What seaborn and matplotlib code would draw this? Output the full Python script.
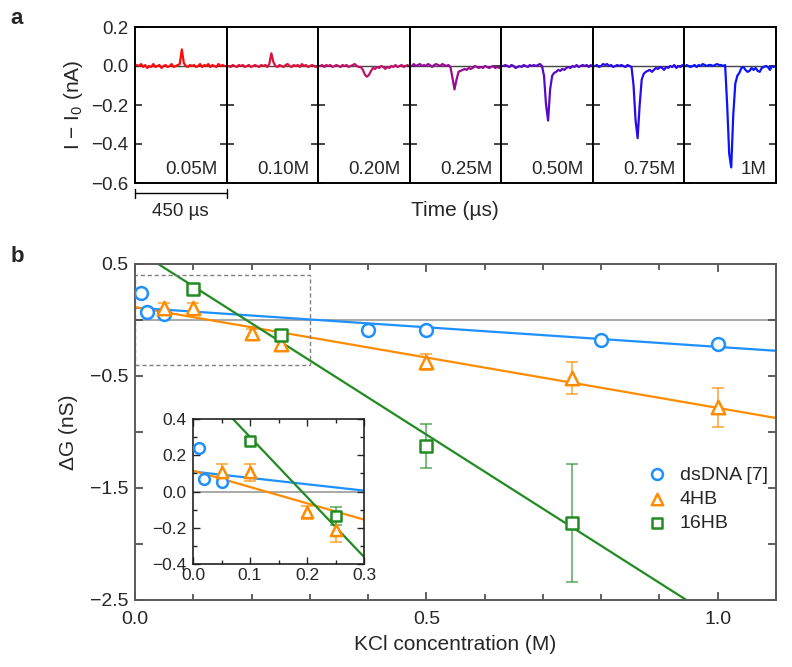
import numpy as np
import pandas as pd
import seaborn as sns
import matplotlib.pyplot as plt
from matplotlib.patches import Rectangle
from matplotlib.ticker import MultipleLocator, FixedLocator

# panel a: translocation events, one trace per KCl concentration
t_us = [10, 20, 30, 40, 50, 60, 70, 80, 90, 100, 110,
        120, 130, 140, 150, 160, 170, 180, 190, 200, 210, 220,
        230, 240, 250, 260, 270, 280, 290, 300, 310, 320, 330,
        340, 350, 360, 370, 380, 390, 400, 410, 420, 430, 440]

conc_labels = ["0.05M", "0.10M", "0.20M", "0.25M", "0.50M", "0.75M", "1M"]
trace_colors = ["#ff0a0a", "#e0103c", "#c0106a", "#960a96", "#5a08c8", "#2a0ae8", "#0a14ff"]

i_005 = [0.005, 0.0, 0.01, -0.005, 0.005, -0.01, 0.0, -0.005, 0.01, -0.005, 0.0,
         0.005, -0.01, 0.0, 0.005, -0.005, 0.0, 0.01, -0.005, 0.0, 0.005, 0.01,
         0.085, 0.015, 0.0, -0.005, 0.005, 0.0, 0.005, -0.005, 0.0, 0.01, -0.005,
         0.005, 0.0, 0.01, -0.005, 0.005, 0.0, -0.005, 0.01, 0.0, 0.005, 0.0]
i_010 = [0.0, -0.005, 0.005, 0.0, -0.005, 0.005, 0.0, 0.005, -0.005, 0.0, 0.005,
         -0.005, 0.0, 0.005, 0.0, -0.005, 0.005, 0.0, 0.005, -0.005, 0.01, 0.065,
         0.02, 0.0, -0.005, 0.005, 0.0, -0.005, 0.005, 0.01, 0.0, -0.005, 0.005,
         0.0, 0.005, -0.005, 0.01, 0.0, 0.005, -0.005, 0.0, 0.005, 0.0, -0.005]
i_020 = [0.0, 0.005, -0.005, 0.005, 0.0, 0.005, -0.005, 0.0, 0.005, 0.0, -0.005,
         0.005, 0.0, 0.005, -0.005, 0.0, 0.005, 0.01, 0.0, -0.005, -0.005, -0.02,
         -0.045, -0.055, -0.045, -0.025, -0.01, -0.015, -0.005, -0.01, 0.0, -0.005, -0.015,
         -0.005, -0.01, 0.0, -0.005, 0.005, -0.005, 0.0, 0.005, -0.005, 0.0, 0.005]
i_025 = [0.0, 0.01, 0.0, 0.005, 0.01, 0.0, 0.005, 0.0, 0.01, 0.005, -0.005,
         0.005, 0.01, 0.005, 0.0, 0.01, 0.005, 0.0, 0.005, -0.005, -0.06, -0.12,
         -0.07, -0.03, -0.025, -0.02, -0.015, -0.02, -0.01, -0.015, -0.01, 0.0, -0.005,
         -0.01, -0.005, -0.01, 0.0, -0.005, -0.01, -0.005, 0.0, -0.01, -0.005, -0.01]
i_050 = [0.0, 0.005, 0.0, -0.005, 0.005, 0.0, -0.01, -0.005, 0.0, -0.005, 0.005,
         0.0, -0.005, 0.005, 0.0, 0.005, 0.0, 0.005, 0.01, 0.0, -0.05, -0.2,
         -0.28, -0.12, -0.05, -0.035, -0.03, -0.02, -0.025, -0.015, -0.02, -0.01, -0.005,
         -0.01, 0.0, -0.005, 0.005, -0.005, 0.0, 0.005, 0.0, 0.005, -0.005, 0.005]
i_075 = [0.0, 0.005, -0.005, 0.0, 0.01, 0.005, 0.01, 0.0, 0.005, -0.005, 0.0,
         0.005, 0.0, 0.005, 0.0, -0.005, 0.005, 0.0, -0.005, -0.1, -0.28, -0.37,
         -0.2, -0.07, -0.04, -0.03, -0.025, -0.02, -0.03, -0.02, -0.01, -0.015, -0.005,
         -0.01, -0.02, -0.005, -0.01, 0.0, -0.005, 0.005, -0.01, 0.0, -0.005, 0.005]
i_100 = [0.005, 0.0, -0.005, 0.0, 0.005, -0.005, 0.005, 0.0, 0.01, 0.005, 0.0,
         0.005, 0.005, 0.0, 0.005, 0.01, 0.005, 0.005, 0.0, 0.005, -0.2, -0.45,
         -0.52, -0.25, -0.09, -0.05, -0.035, -0.01, -0.005, -0.02, -0.03, -0.025, -0.01,
         -0.02, -0.01, -0.025, -0.03, -0.01, -0.005, 0.0, -0.005, -0.02, 0.0, -0.005]
traces = [i_005, i_010, i_020, i_025, i_050, i_075, i_100]

# panel b: conductance change vs KCl concentration
ds_x = [0.01, 0.02, 0.05, 0.4, 0.5, 0.8, 1.0]
ds_y = [0.24, 0.07, 0.05, -0.09, -0.09, -0.18, -0.21]
hb4_x = [0.05, 0.1, 0.2, 0.25, 0.5, 0.75, 1.0]
hb4_y = [0.11, 0.105, -0.115, -0.215, -0.375, -0.52, -0.78]
hb4_err = [0.04, 0.045, 0.035, 0.065, 0.075, 0.145, 0.175]
hb16_x = [0.1, 0.25, 0.5, 0.75]
hb16_y = [0.28, -0.135, -1.125, -1.81]
hb16_err = [0.015, 0.05, 0.2, 0.525]

# linear fits (intercept, slope)
ds_fit = (0.11, -0.35)
hb4_fit = (0.115, -0.9)
hb16_fit = (0.632, -3.31)

c_ds, c_4, c_16 = "#1e90ff", "#ff8c00", "#228b22"

sns.set_style("ticks")
plt.rcParams['font.family'] = ['Liberation Sans', 'DejaVu Sans']
plt.rcParams['mathtext.fontset'] = 'custom'
plt.rcParams['mathtext.rm'] = 'Liberation Sans'
plt.rcParams['mathtext.it'] = 'Liberation Sans:italic'

W, H = 792, 667
fig = plt.figure(figsize=(W / 100, H / 100), dpi=100)

left, right = 135 / W, 776 / W
w = (right - left) / 7

# ---- panel a
axes_a = []
for i, (lab, vals, col) in enumerate(zip(conc_labels, traces, trace_colors)):
    ax = fig.add_axes([left + i * w, 1 - 183 / H, w, 156 / H])
    ax.axhline(0, color="#444444", lw=1, zorder=0)
    sns.lineplot(x=t_us, y=vals, color=col, lw=1.6, estimator=None, ax=ax)
    ax.set_xlim(0, 450)
    ax.set_ylim(-0.6, 0.2)
    ax.set_xticks([])
    ax.yaxis.set_major_locator(MultipleLocator(0.2))
    ax.tick_params(axis='y', direction='in', left=True, right=True, length=5,
                   width=1.2, labelsize=13.5, pad=5)
    if i > 0:
        ax.tick_params(labelleft=False)
    ax.text(0.9, 0.085, lab, transform=ax.transAxes, ha='right', va='center', fontsize=13.5)
    for s in ax.spines.values():
        s.set_linewidth(1.4)
        s.set_color("black")
    axes_a.append(ax)

ax0 = axes_a[0]
ax0.set_ylabel("I $-$ I$_0$ (nA)", fontsize=15, labelpad=4)
tr = ax0.get_xaxis_transform()
ax0.plot([0, 450], [-0.064, -0.064], color="black", lw=1, transform=tr, clip_on=False)
ax0.plot([0, 0], [-0.04, -0.095], color="black", lw=1, transform=tr, clip_on=False)
ax0.plot([450, 450], [-0.04, -0.095], color="black", lw=1, transform=tr, clip_on=False)
ax0.text(225, -0.18, "450 µs", transform=tr, ha='center', va='center', fontsize=13.5)
fig.text(455 / W, 1 - 211 / H, "Time (µs)", ha='center', va='center', fontsize=15)

# ---- panel b
axb = fig.add_axes([left, 1 - 600 / H, right - left, 336 / H])
inset = fig.add_axes([193 / W, 1 - 564 / H, 171 / W, 145 / H])

for ax, ms in [(axb, 85), (inset, 60)]:
    main = ax is axb
    ax.axhline(0, color="#9a9a9a", lw=1.2, zorder=0)
    for (b, m), c in [(ds_fit, c_ds), (hb4_fit, c_4), (hb16_fit, c_16)]:
        ax.axline((0, b), slope=m, color=c, lw=1.6, zorder=1)
    ax.errorbar(hb4_x, hb4_y, yerr=hb4_err, fmt='none', ecolor=c_4, elinewidth=1.1,
                capsize=4.5, capthick=1.1, alpha=0.8, zorder=2)
    ax.errorbar(hb16_x, hb16_y, yerr=hb16_err, fmt='none', ecolor=c_16, elinewidth=1.1,
                capsize=4.5, capthick=1.1, alpha=0.75, zorder=2)
    sns.scatterplot(x=ds_x, y=ds_y, marker='o', s=ms, color='white', edgecolor=c_ds,
                    linewidth=1.8, zorder=3, ax=ax, label="dsDNA [7]" if main else None)
    sns.scatterplot(x=hb4_x, y=hb4_y, marker='^', s=ms * 1.1, color='white', edgecolor=c_4,
                    linewidth=1.8, zorder=3, ax=ax, label="4HB" if main else None)
    sns.scatterplot(x=hb16_x, y=hb16_y, marker='s', s=ms * 0.95, color='white', edgecolor=c_16,
                    linewidth=1.8, zorder=3, ax=ax, label="16HB" if main else None)

axb.set_xlim(0, 1.1)
axb.set_ylim(-2.5, 0.5)
axb.add_patch(Rectangle((0, -0.4), 0.3, 0.8, fill=False, ls=(0, (3, 2)), ec="#808080",
                        lw=1, zorder=1))
axb.xaxis.set_major_locator(MultipleLocator(0.5))
axb.xaxis.set_minor_locator(MultipleLocator(0.1))
axb.yaxis.set_major_locator(FixedLocator([0.5, -0.5, -1.5, -2.5]))
axb.yaxis.set_minor_locator(FixedLocator([0.0, -1.0, -2.0]))
axb.tick_params(which='both', direction='in', top=True, right=True, width=1.2,
                labelsize=14, color="#444444")
axb.tick_params(axis='x', which='major', length=6, pad=8)
axb.tick_params(axis='x', which='minor', length=4)
axb.tick_params(axis='y', which='both', length=6, pad=5)
axb.set_xlabel("KCl concentration (M)", fontsize=15, labelpad=5)
axb.set_ylabel("ΔG (nS)", fontsize=15, labelpad=8)
for s in axb.spines.values():
    s.set_linewidth(1.4)
    s.set_color("#5a5a5a")
h, l = axb.get_legend_handles_labels()
axb.legend(h, l, loc='center left', bbox_to_anchor=(0.757, 0.30), frameon=False,
           fontsize=14, handletextpad=0.15, labelspacing=0.35, markerscale=0.85)

inset.set_facecolor("white")
inset.set_xlim(0, 0.3)
inset.set_ylim(-0.4, 0.4)
inset.xaxis.set_major_locator(MultipleLocator(0.1))
inset.xaxis.set_minor_locator(MultipleLocator(0.05))
inset.yaxis.set_major_locator(MultipleLocator(0.2))
inset.yaxis.set_minor_locator(MultipleLocator(0.1))
inset.tick_params(which='both', direction='in', top=True, right=True, width=1,
                  labelsize=12.5)
inset.tick_params(which='major', length=5)
inset.tick_params(which='minor', length=3)
inset.tick_params(axis='x', pad=3)
inset.tick_params(axis='y', pad=5)
for s in inset.spines.values():
    s.set_linewidth(1.2)
    s.set_color("#222222")

fig.text(17 / W, 1 - 18 / H, "a", fontsize=16, fontweight='bold', ha='center', va='center')
fig.text(17 / W, 1 - 256 / H, "b", fontsize=16, fontweight='bold', ha='center', va='center')

fig.savefig("out.png", dpi=100)
